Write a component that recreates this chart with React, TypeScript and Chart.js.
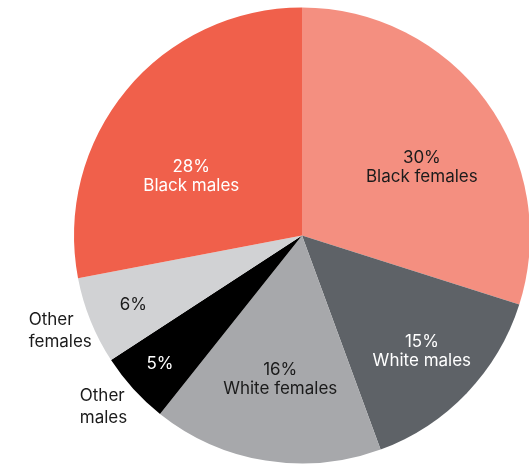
import React, { useEffect, useRef } from "react";
import { Chart, registerables } from "chart.js";

Chart.register(...registerables);

const categories = ["Black females", "White males", "White females", "Other males", "Other females", "Black males"];
const shares = [29.9, 14.5, 16.3, 5.1, 6.2, 28.0];
const sliceColors = ["#F48F80", "#5E6267", "#A7A8AB", "#000000", "#D1D2D4", "#F0604B"];
// which slices carry their name inside, and which outside
const nameInside = [true, true, true, false, false, true];
const outsideNames = [null, null, null, ["Other", "males"], ["Other", "females"], null];
const labelTextColors = ["#1b1b1b", "#ffffff", "#1b1b1b", "#ffffff", "#1b1b1b", "#ffffff"];
// placement of labels: fraction of radius and angle adjustment (degrees)
const labelRadiusFrac = [0.605, 0.73, 0.64, 0.84, 0.8, 0.55];
const labelAngleShift = [6.5, 0.2, -0.6, 0.2, -0.4, -11.6];
const outsideRadiusFrac = [0, 0, 0, 1.15, 1.14, 0];
const outsideAngleShift = [0, 0, 0, 1.5, 0.4, 0];

const labelPlugin = {
  id: "sliceLabels",
  afterDatasetsDraw(chart: any) {
    const ctx = chart.ctx;
    const meta = chart.getDatasetMeta(0);
    ctx.save();
    ctx.font = "17px Inter, 'Noto Sans', sans-serif";
    ctx.textBaseline = "middle";
    meta.data.forEach((arc: any, i: number) => {
      const { x, y, startAngle, endAngle, outerRadius } = arc.getProps(
        ["x", "y", "startAngle", "endAngle", "outerRadius"],
        true
      );
      const mid = (startAngle + endAngle) / 2;
      const a = mid + (labelAngleShift[i] * Math.PI) / 180;
      const r = outerRadius * labelRadiusFrac[i];
      const cx = x + Math.cos(a) * r;
      const cy = y + Math.sin(a) * r;
      const pct = Math.round(shares[i]) + "%";
      const lines = nameInside[i] ? [pct, categories[i]] : [pct];
      const lh = 19;
      ctx.fillStyle = labelTextColors[i];
      ctx.textAlign = "center";
      lines.forEach((t, k) => {
        ctx.fillText(t, cx, cy + (k - (lines.length - 1) / 2) * lh);
      });
      const out = outsideNames[i];
      if (out) {
        const ao = mid + (outsideAngleShift[i] * Math.PI) / 180;
        const ro = outerRadius * outsideRadiusFrac[i];
        const ox = x + Math.cos(ao) * ro;
        const oy = y + Math.sin(ao) * ro;
        const w = Math.max(...out.map((t) => ctx.measureText(t).width));
        ctx.fillStyle = "#1b1b1b";
        ctx.textAlign = "left";
        const olh = 22;
        out.forEach((t, k) => {
          ctx.fillText(t, ox - w / 2, oy + (k - (out.length - 1) / 2) * olh);
        });
      }
    });
    ctx.restore();
  },
};

export default function App() {
  const ref = useRef<HTMLCanvasElement | null>(null);
  useEffect(() => {
    if (!ref.current) return;
    const chart = new Chart(ref.current, {
      type: "pie",
      data: {
        labels: categories,
        datasets: [
          {
            data: shares,
            backgroundColor: sliceColors,
            borderWidth: 0,
            clip: false as any,
          },
        ],
      },
      options: {
        animation: false,
        responsive: false,
        radius: 228,
        layout: { padding: { left: 75, right: 0, top: 6, bottom: 0 } },
        plugins: {
          legend: { display: false },
          tooltip: { enabled: false },
        },
      } as any,
      plugins: [labelPlugin],
    });
    return () => chart.destroy();
  }, []);
  return (
    <div style={{ position: "fixed", left: 0, top: 0, width: 529, height: 465, overflow: "hidden", background: "#fff" }}>
      <canvas ref={ref} width={529} height={465} style={{ display: "block" }} />
    </div>
  );
}
